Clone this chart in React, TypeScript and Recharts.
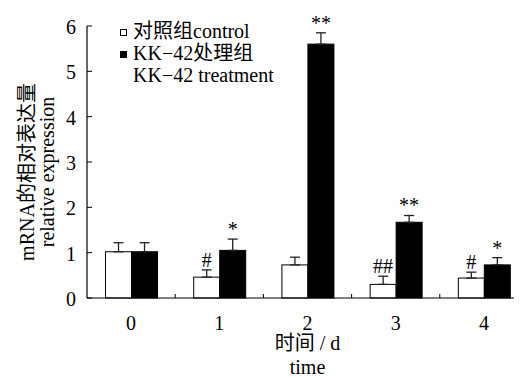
import React from 'react';
import { BarChart, Bar, XAxis, YAxis, ErrorBar, Legend } from 'recharts';

const categories = ['0', '1', '2', '3', '4'];
const controlValues = [1.02, 0.46, 0.73, 0.3, 0.44];
const controlErrors = [0.2, 0.16, 0.17, 0.18, 0.13];
const treatmentValues = [1.02, 1.05, 5.6, 1.67, 0.73];
const treatmentErrors = [0.2, 0.25, 0.25, 0.15, 0.16];
const controlMarks = ['', '#', '', '##', '#'];
const treatmentMarks = ['', '*', '**', '**', '*'];
const yTicks = [0, 1, 2, 3, 4, 5, 6];
const controlLegend = ['对照组control'];
const treatmentLegend = ['KK−42处理组', 'KK−42 treatment'];
const yTitle = ['mRNA的相对表达量', 'relative expression'];
const xTitle = ['时间 / d', 'time'];

const FONT = '"Liberation Serif", "Noto Sans CJK SC", serif';

const data = categories.map((c, i) => ({
  day: c,
  control: controlValues[i],
  controlErr: [0, controlErrors[i]],
  controlMark: controlMarks[i],
  treatment: treatmentValues[i],
  treatmentErr: [0, treatmentErrors[i]],
  treatmentMark: treatmentMarks[i],
}));

const makeShape = (valueKey: string, errKey: string, markKey: string, fill: string) => (props: any) => {
  const { x, y, width, height, payload } = props;
  const v = payload[valueKey];
  const e = payload[errKey][1];
  const pxPer = v ? height / v : 0;
  const errTop = y - e * pxPer;
  const mark = payload[markKey];
  return (
    <g>
      <rect x={x} y={y} width={width} height={height} fill={fill} stroke="#000" strokeWidth={1} />
      {mark ? (
        <text x={x + width / 2} y={errTop - 3} textAnchor="middle" fontSize={20} fontFamily={FONT} fill="#000">
          {mark}
        </text>
      ) : null}
    </g>
  );
};

const XTick = (props: any) => {
  const { x, y, payload, index, visibleTicksCount, width } = props;
  const count = visibleTicksCount || categories.length;
  const band = (Number(width) || 440) / count;
  return (
    <g>
      <text x={x} y={y + 32} textAnchor="middle" fontSize={20} fontFamily={FONT} fill="#000">
        {payload.value}
      </text>
      {index < count - 1 ? (
        <line x1={x + band / 2} x2={x + band / 2} y1={y} y2={y - 4} stroke="#000" strokeWidth={1} />
      ) : null}
    </g>
  );
};

const YTick = (props: any) => {
  const { x, y, payload } = props;
  return (
    <text x={x} y={y + 8} textAnchor="end" fontSize={20} fontFamily={FONT} fill="#000">
      {payload.value}
    </text>
  );
};

const YLabel = (props: any) => {
  const vb = props.viewBox || {};
  const x = vb.x ?? 0;
  const cy = (vb.y ?? 18) + (vb.height ?? 272) / 2 + 10;
  return (
    <g>
      {yTitle.map((t, i) => (
        <text
          key={t}
          x={x + 19 + i * 20}
          y={cy}
          transform={`rotate(-90 ${x + 19 + i * 20} ${cy})`}
          textAnchor="middle"
          dominantBaseline="central"
          fontSize={20}
          fontFamily={FONT}
          fill="#000"
        >
          {t}
        </text>
      ))}
    </g>
  );
};

const XLabel = (props: any) => {
  const vb = props.viewBox || {};
  const cx = (vb.x ?? 79) + (vb.width ?? 440) / 2;
  const y = vb.y ?? 290;
  return (
    <g>
      {xTitle.map((t, i) => (
        <text key={t} x={cx} y={y + 52 + i * 24} textAnchor="middle" fontSize={20} fontFamily={FONT} fill="#000">
          {t}
        </text>
      ))}
    </g>
  );
};

const LegendContent = () => {
  const row = (marker: React.ReactNode, text: string, key: string) => (
    <div key={key} style={{ whiteSpace: 'nowrap' }}>
      <span style={{ display: 'inline-block', width: 13 }}>{marker}</span>
      {text}
    </div>
  );
  const open = (
    <span style={{ display: 'inline-block', width: 5, height: 5, border: '1px solid #000', verticalAlign: '2px' }} />
  );
  const filled = (
    <span style={{ display: 'inline-block', width: 7, height: 7, background: '#000', verticalAlign: '2px' }} />
  );
  return (
    <div style={{ fontFamily: FONT, fontSize: 20, lineHeight: '22px', color: '#000', textAlign: 'left' }}>
      {controlLegend.map((t, i) => row(i === 0 ? open : null, t, 'c' + i))}
      {treatmentLegend.map((t, i) => row(i === 0 ? filled : null, t, 't' + i))}
    </div>
  );
};

export default function App() {
  return (
    <div style={{ width: 514, height: 369, overflow: 'hidden' }}>
      <BarChart
        width={520}
        height={369}
        data={data}
        margin={{ top: 18, right: 0, bottom: 0, left: 0 }}
        barCategoryGap="21%"
        barGap={0}
      >
        <XAxis
          dataKey="day"
          height={79}
          axisLine={{ stroke: '#000', strokeWidth: 1.2 }}
          tickLine={false}
          tickSize={0}
          tickMargin={0}
          tick={<XTick />}
          interval={0}
          label={<XLabel />}
        />
        <YAxis
          width={79}
          domain={[0, 6]}
          ticks={yTicks}
          interval={0}
          axisLine={{ stroke: '#000', strokeWidth: 1.2 }}
          tickLine={{ stroke: '#000', strokeWidth: 1 }}
          tickSize={-5}
          tickMargin={16}
          tick={<YTick />}
          label={<YLabel />}
        />
        <Legend
          layout="vertical"
          verticalAlign="middle"
          align="center"
          content={<LegendContent />}
          wrapperStyle={{ top: 12, left: 112, width: 'auto', height: 'auto' }}
        />
        <Bar
          dataKey="control"
          name={controlLegend[0]}
          fill="#fff"
          isAnimationActive={false}
          shape={makeShape('control', 'controlErr', 'controlMark', '#fff')}
        >
          <ErrorBar dataKey="controlErr" width={5} stroke="#222" strokeWidth={1.3} direction="y" isAnimationActive={false} />
        </Bar>
        <Bar
          dataKey="treatment"
          name={treatmentLegend[0]}
          fill="#000"
          isAnimationActive={false}
          shape={makeShape('treatment', 'treatmentErr', 'treatmentMark', '#000')}
        >
          <ErrorBar dataKey="treatmentErr" width={5} stroke="#222" strokeWidth={1.3} direction="y" isAnimationActive={false} />
        </Bar>
      </BarChart>
    </div>
  );
}
